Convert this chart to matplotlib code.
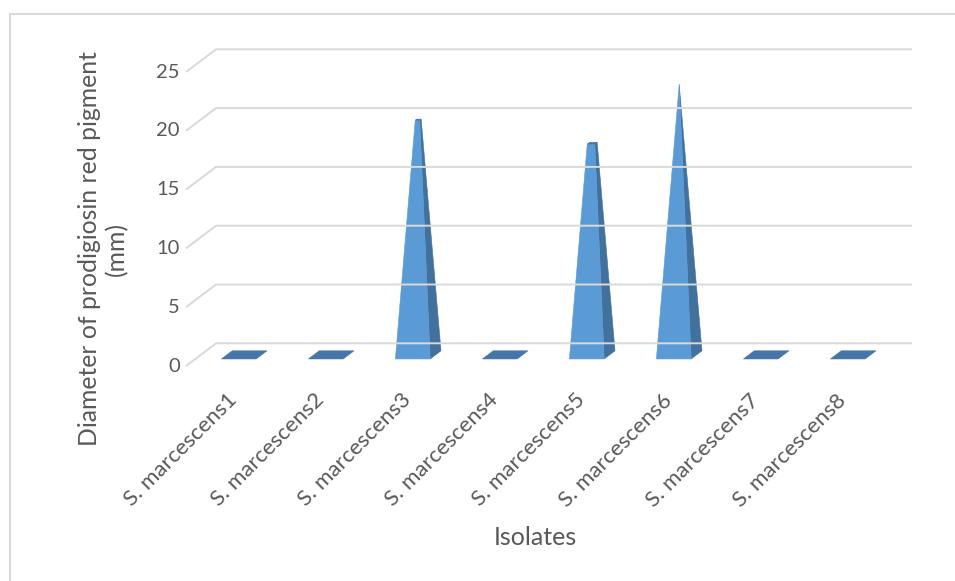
import matplotlib
matplotlib.use("Agg")
import matplotlib.pyplot as plt
from matplotlib.patches import Polygon
from matplotlib.lines import Line2D

isolates = ["S. marcescens1", "S. marcescens2", "S. marcescens3", "S. marcescens4",
            "S. marcescens5", "S. marcescens6", "S. marcescens7", "S. marcescens8"]
diameter_mm = [0, 0, 20, 0, 18, 23, 0, 0]
y_ticks = [0, 5, 10, 15, 20, 25]

plt.rcParams["font.family"] = ["Lato", "DejaVu Sans"]
TXT = "#595959"
GRID = "#D9D9D9"
FRONT = "#5B9BD5"
SIDE = "#41719C"
TOP = "#4676A9"

W, H = 955, 581
fig = plt.figure(figsize=(W / 100, H / 100), dpi=100)
ax = fig.add_axes([0, 0, 1, 1])
ax.axis("off")

# floor front-left corner at pixel (186, 366); 87 px per category, 11.76 px per mm
X0, Y0, PX_CAT, PX_MM = 186, 366, 87.0, 11.76
ax.set_xlim(-X0 / PX_CAT, (W - X0) / PX_CAT)
ax.set_ylim(-(H - Y0) / PX_MM, Y0 / PX_MM)

# oblique offset of the back wall, in data units
DX, DY = 30 / PX_CAT, 22.7 / PX_MM
n = len(isolates)


def proj(x, h, d):
    return (x + d * DX, h + d * DY)


def px(x, y):
    # pixel position -> data coords, for placing titles
    return (x - X0) / PX_CAT, (Y0 - y) / PX_MM


# gridlines: short diagonal on the side, then along the back wall
for v in y_ticks:
    ax.plot([0, DX, n + DX], [v, v + DY, v + DY], color=GRID, lw=1.4,
            solid_capstyle="butt")

# "pyramid to maximum" bars: every bar is a slice of one pyramid peaking at the max
vmax = max(diameter_mm)
hw, cd, hd = 0.2, 0.49, 0.18
for i, v in enumerate(diameter_mm):
    cx = i + 0.5
    if v == 0:
        pts = [proj(cx - hw, 0, cd - hd), proj(cx + hw, 0, cd - hd),
               proj(cx + hw, 0, cd + hd), proj(cx - hw, 0, cd + hd)]
        ax.add_patch(Polygon(pts, closed=True, fc=TOP, ec=TOP, lw=0.4))
        continue
    s = 1 - v / vmax
    bfl = proj(cx - hw, 0, cd - hd)
    bfr = proj(cx + hw, 0, cd - hd)
    bbr = proj(cx + hw, 0, cd + hd)
    tfl = proj(cx - hw * s, v, cd - hd * s)
    tfr = proj(cx + hw * s, v, cd - hd * s)
    tbr = proj(cx + hw * s, v, cd + hd * s)
    tbl = proj(cx - hw * s, v, cd + hd * s)
    ax.add_patch(Polygon([bfr, bbr, tbr, tfr], closed=True, fc=SIDE, ec=SIDE, lw=0.4))
    ax.add_patch(Polygon([bfl, bfr, tfr, tfl], closed=True, fc=FRONT, ec=FRONT, lw=0.4))
    if s > 0:
        ax.add_patch(Polygon([tfl, tfr, tbr, tbl], closed=True, fc=TOP, ec=TOP, lw=0.4))

# value axis labels
for v in y_ticks:
    ax.text(-0.07, v, str(v), ha="right", va="center", fontsize=14.5, color=TXT)

# category labels, slanted
for i, name in enumerate(isolates):
    ax.text(i + 0.55, -2.64, name, rotation=45, rotation_mode="anchor",
            ha="right", va="center", fontsize=16, color=TXT)

ax.text(*px(90, 249), "Diameter of prodigiosin red pigment", rotation=90,
        ha="center", va="center", fontsize=17.8, color=TXT)
ax.text(*px(117, 249), "(mm)", rotation=90,
        ha="center", va="center", fontsize=17.8, color=TXT)
ax.text(*px(535, 545), "Isolates", ha="center", va="baseline", fontsize=18, color=TXT)

# chart area border (left and top edges)
fig.add_artist(Line2D([10 / W, 10 / W], [0, 1 - 14 / H], transform=fig.transFigure,
                      color=GRID, lw=1.5))
fig.add_artist(Line2D([10 / W, 1], [1 - 14 / H, 1 - 14 / H], transform=fig.transFigure,
                      color=GRID, lw=1.5))

fig.savefig("out.png", dpi=100)
